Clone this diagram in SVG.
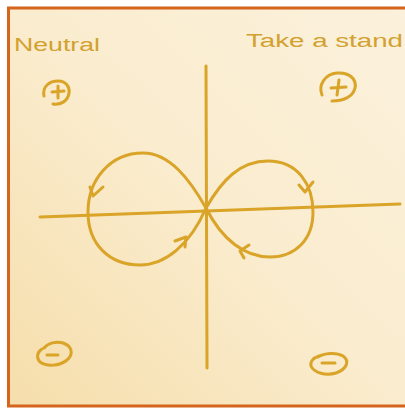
<svg xmlns="http://www.w3.org/2000/svg" width="405" height="410" viewBox="0 0 405 410">
<defs>
<linearGradient id="bg" x1="0" y1="1" x2="1" y2="0">
<stop offset="0" stop-color="#f6deab"/>
<stop offset="0.5" stop-color="#faecce"/>
<stop offset="1" stop-color="#fbf1dc"/>
</linearGradient>
<style>
.ink{fill:none;stroke:#d9a428;stroke-width:3;stroke-linecap:round;stroke-linejoin:round}
.lbl{fill:#d2a12e;font-family:"Liberation Sans",Arial,sans-serif;font-size:18px}
</style>
</defs>
<rect x="0" y="0" width="405" height="410" fill="#ffffff"/>
<rect x="8.5" y="8" width="402" height="398" fill="url(#bg)" stroke="#d5651d" stroke-width="3"/>
<g id="labels">
<text class="lbl" x="14" y="51" textLength="86" lengthAdjust="spacingAndGlyphs">Neutral</text>
<text class="lbl" x="246" y="47" textLength="157" lengthAdjust="spacingAndGlyphs">Take a stand</text>
</g>
<g id="axes">
<path class="ink" d="M206,66 L207,368"/>
<path class="ink" d="M40,217 L400,204"/>
</g>
<g id="connectors">
<path class="ink" d="M206,208 C222,180 240,161 268,161 C298,161 313,185 313,212 C313,240 295,257 270,257 C245,257 222,240 206,208 Z"/>
<path class="ink" d="M206,208 C190,180 170,153 143,153 C110,153 88,180 88,212 C88,245 110,265 140,265 C165,265 190,245 206,208"/>
<path class="ink" d="M90,187 L93,196 L103,187"/>
<path class="ink" d="M299,185 L305,192 L313,182"/>
<path class="ink" d="M175,241 L186,237 L185,247"/>
<path class="ink" d="M249,245 L240,251 L244,258"/>
</g>
<g id="plus-left">
<path class="ink" d="M44,96 C42,86 50,81 58,81 C66,81 70,87 69,93 C68,101 61,105 53,104"/>
<path class="ink" d="M52,92 L64,91 M58,86 L58,98"/>
</g>
<g id="plus-right">
<path class="ink" d="M322,95 C318,85 325,74 337,73 C349,72 357,79 355,88 C353,97 343,101 332,101"/>
<path class="ink" d="M331,88 L346,87 M339,80 L337,95"/>
</g>
<g id="minus-left">
<path class="ink" d="M44,348 C48,343 56,341 63,343 C72,346 74,354 67,360 C60,366 47,367 40,362 C36,358 37,352 42,349"/>
<path class="ink" d="M47,355 L58,355"/>
</g>
<g id="minus-right">
<path class="ink" d="M318,357 C324,353 336,352 343,356 C350,361 347,369 336,373 C326,376 314,373 311,366 C310,362 313,358 319,356"/>
<path class="ink" d="M322,363 L335,363"/>
</g>
</svg>
